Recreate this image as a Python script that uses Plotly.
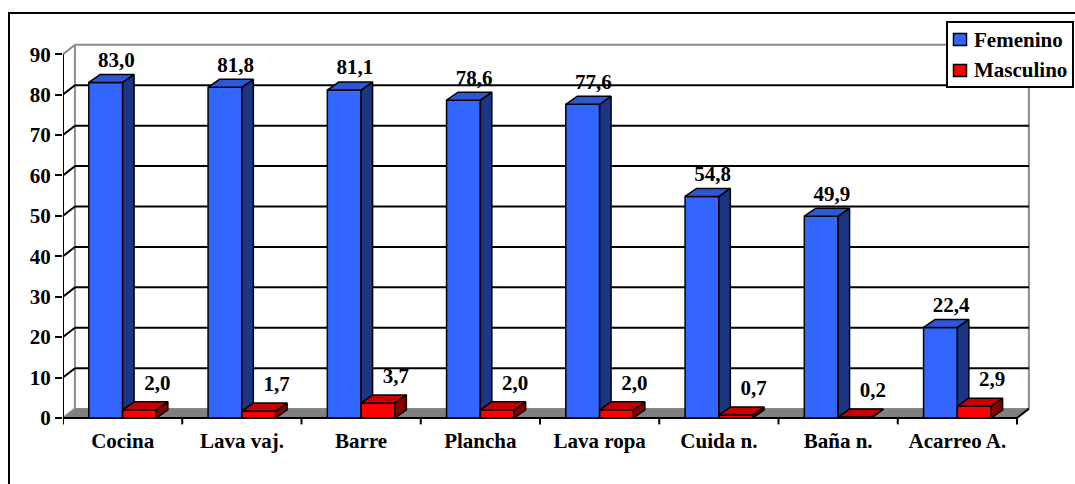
import plotly.graph_objects as go

# ---- data -------------------------------------------------------------
categories = ["Cocina", "Lava vaj.", "Barre", "Plancha", "Lava ropa",
              "Cuida n.", "Baña n.", "Acarreo A."]
femenino = [83.0, 81.8, 81.1, 78.6, 77.6, 54.8, 49.9, 22.4]
masculino = [2.0, 1.7, 3.7, 2.0, 2.0, 0.7, 0.2, 2.9]
series_names = ["Femenino", "Masculino"]
y_ticks = [0, 10, 20, 30, 40, 50, 60, 70, 80, 90]

# ---- page / plot-area geometry (pixels) --------------------------------
W, H = 1075, 484
Y_RANGE = (-2.0, 93.5)
PX_PER_UNIT = 4.0415
ML, MR, MT = 63, 35, 40
PH = round((Y_RANGE[1] - Y_RANGE[0]) * PX_PER_UNIT)
MB = H - MT - PH
PW = W - ML - MR


def px(xp, yp):
    """Pixel position on the page -> paper coordinates."""
    return (xp - ML) / PW, (H - MB - yp) / PH


# ---- styling / geometry of the pseudo-3D columns ----------------------
FONT = '"Liberation Serif", "Times New Roman", Times, serif'
BAR_W = 0.2835            # column width in category units
BAR_DX, BAR_DY = 0.096, 1.98     # depth of each column (x units, y units)
WALL_DX, WALL_DY = 0.10, 2.3     # depth of the floor / side wall
Y_MAX = 90
N = len(categories)

BLUE = dict(front="#3366FF", side="#1C3585", top="#2C58D8")
RED = dict(front="#FF0000", side="#8A0000", top="#C80000")


def fmt(v):
    return f"{v:.1f}".replace(".", ",")


def column_faces(values, offset):
    """Polygons (None separated) for the front, side and top faces."""
    fx, fy, sx, sy, tx, ty = [], [], [], [], [], []
    for i, v in enumerate(values):
        x0 = i + 0.5 + offset
        x1 = x0 + BAR_W
        fx += [x0, x1, x1, x0, x0, None]
        fy += [0, 0, v, v, 0, None]
        sx += [x1, x1 + BAR_DX, x1 + BAR_DX, x1, x1, None]
        sy += [0, BAR_DY, v + BAR_DY, v, 0, None]
        tx += [x0, x1, x1 + BAR_DX, x0 + BAR_DX, x0, None]
        ty += [v, v, v + BAR_DY, v + BAR_DY, v, None]
    return (fx, fy), (sx, sy), (tx, ty)


def poly(xy, color, name):
    return go.Scatter(x=xy[0], y=xy[1], mode="lines", fill="toself",
                      fillcolor=color, line=dict(color="black", width=1.5),
                      name=name, hoverinfo="skip", showlegend=False)


def segs(pairs):
    xs, ys = [], []
    for (xa, ya), (xb, yb) in pairs:
        xs += [xa, xb, None]
        ys += [ya, yb, None]
    return xs, ys


fig = go.Figure()

# floor
fig.add_trace(go.Scatter(
    x=[0, N, N + WALL_DX, WALL_DX, 0], y=[0, 0, WALL_DY, WALL_DY, 0],
    mode="lines", fill="toself", fillcolor="#808080",
    line=dict(color="#808080", width=1), hoverinfo="skip", showlegend=False))

# gray edges of the walls
gx, gy = segs([
    ((0, Y_MAX), (WALL_DX, Y_MAX + WALL_DY)),
    ((WALL_DX, Y_MAX + WALL_DY), (N + WALL_DX, Y_MAX + WALL_DY)),
    ((WALL_DX, WALL_DY), (WALL_DX, Y_MAX + WALL_DY)),
    ((N + WALL_DX, WALL_DY), (N + WALL_DX, Y_MAX + WALL_DY)),
    ((0, 0), (WALL_DX, WALL_DY)),
])
fig.add_trace(go.Scatter(x=gx, y=gy, mode="lines",
                         line=dict(color="#8C8C8C", width=2),
                         hoverinfo="skip", showlegend=False))

# black gridlines on the side and back walls
grid_pairs = []
for t in y_ticks[1:-1]:
    grid_pairs.append(((0, t), (WALL_DX, t + WALL_DY)))
    grid_pairs.append(((WALL_DX, t + WALL_DY), (N + WALL_DX, t + WALL_DY)))
gx, gy = segs(grid_pairs)
fig.add_trace(go.Scatter(x=gx, y=gy, mode="lines",
                         line=dict(color="black", width=2),
                         hoverinfo="skip", showlegend=False))

# axis lines and category separators
axis_pairs = [((0, 0), (0, Y_MAX)), ((0, 0), (N, 0)),
              ((N, 0), (N + WALL_DX, WALL_DY))]
axis_pairs += [((k, 0), (k, -1.6)) for k in range(N + 1)]
ax_x, ax_y = segs(axis_pairs)
fig.add_trace(go.Scatter(x=ax_x, y=ax_y, mode="lines",
                         line=dict(color="black", width=2),
                         hoverinfo="skip", showlegend=False))

# columns: Femenino (left) then Masculino (right) so faces overlap correctly
series = ((femenino, -BAR_W, BLUE, series_names[0]),
          (masculino, 0.0, RED, series_names[1]))
for values, offset, col, name in series:
    front, side, top = column_faces(values, offset)
    fig.add_trace(poly(front, col["front"], name))
    fig.add_trace(poly(side, col["side"], name))
    fig.add_trace(poly(top, col["top"], name))

# value labels
for values, offset, dx, lift in ((femenino, -BAR_W, 0.09, 0.6),
                                 (masculino, 0.0, 0.15, 1.6)):
    fig.add_trace(go.Scatter(
        x=[i + 0.5 + offset + BAR_W / 2 + dx for i in range(N)],
        y=[v + BAR_DY + lift for v in values],
        mode="text", text=[fmt(v) for v in values],
        textposition="top center",
        textfont=dict(family=FONT, size=21, color="black", weight="bold"),
        cliponaxis=False, hoverinfo="skip", showlegend=False))

# legend: framed box with a swatch and a label per series
shapes = []
annotations = []
bx0, by1 = px(947, 22)
bx1, by0 = px(1073, 87)
shapes.append(dict(type="rect", xref="paper", yref="paper",
                   x0=bx0, x1=bx1, y0=by0, y1=by1,
                   line=dict(color="black", width=2), fillcolor="white",
                   layer="above"))
for k, (name, col) in enumerate(zip(series_names, (BLUE, RED))):
    cy = 39.5 + 31 * k
    sx0, sy1 = px(953.5, cy - 6)
    sx1, sy0 = px(966.5, cy + 6)
    shapes.append(dict(type="rect", xref="paper", yref="paper",
                       x0=sx0, x1=sx1, y0=sy0, y1=sy1,
                       line=dict(color="black", width=1.5),
                       fillcolor=col["front"], layer="above"))
    tx, ty = px(972, cy)
    annotations.append(dict(xref="paper", yref="paper", x=tx, y=ty,
                            xanchor="left", yanchor="middle", text=name,
                            showarrow=False,
                            font=dict(family=FONT, size=21, color="black",
                                      weight="bold")))

# outer chart frame
fx0, fy1 = px(9, 13)
fx1, fy0 = px(1090, 500)
shapes.append(dict(type="rect", xref="paper", yref="paper",
                   x0=fx0, x1=fx1, y0=fy0, y1=fy1,
                   line=dict(color="black", width=2),
                   fillcolor="rgba(0,0,0,0)", layer="below"))

fig.update_layout(
    width=W, height=H,
    margin=dict(l=ML, r=MR, t=MT, b=MB, autoexpand=False),
    paper_bgcolor="white", plot_bgcolor="white",
    font=dict(family=FONT, size=21, color="black", weight="bold"),
    showlegend=False,
    xaxis=dict(range=[0, PW / 119.25], tickvals=[i + 0.5 for i in range(N)],
               ticktext=categories, showgrid=False, zeroline=False,
               showline=False, ticks="", fixedrange=True,
               tickfont=dict(family=FONT, size=21, weight="bold")),
    yaxis=dict(range=list(Y_RANGE), tickvals=y_ticks, showgrid=False,
               zeroline=False, showline=False, ticks="outside", ticklen=7,
               tickwidth=2, tickcolor="black", fixedrange=True,
               tickfont=dict(family=FONT, size=21, weight="bold")),
    shapes=shapes,
    annotations=annotations,
)

fig.write_html("out.html")
